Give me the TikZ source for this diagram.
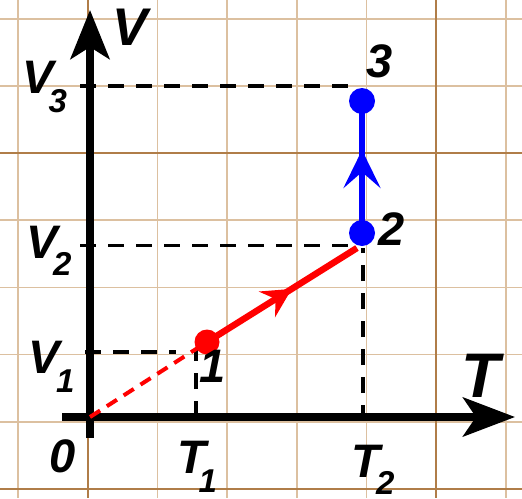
\documentclass[tikz,border=0pt]{standalone}
\usepackage{fontspec}
\setmainfont{Liberation Sans}
\usetikzlibrary{arrows.meta,decorations.markings}
\definecolor{gridminor}{RGB}{220,192,160}
\definecolor{gridmajor}{RGB}{176,125,72}
\definecolor{pblue}{RGB}{0,0,255}
\definecolor{pred}{RGB}{255,0,0}
\newcommand{\subtxt}[3]{\kern#1pt\raisebox{-#2pt}{\fontsize{33}{33}\selectfont #3}}
\begin{document}
\begin{tikzpicture}[x=1pt,y=-1pt,
  gridmin/.style={gridminor,line width=1.8pt},
  gridmaj/.style={gridmajor,line width=2.2pt},
  axis/.style={line width=7.5pt},
  guide/.style={line width=3.5pt,dash pattern=on 16pt off 12pt},
  lab/.style={font=\bfseries\itshape\fontsize{47}{47}\selectfont,inner sep=0pt,anchor=base},
  sublab/.style={font=\bfseries\itshape\fontsize{47}{47}\selectfont,inner sep=0pt,anchor=base west},
  dot/.style={circle,fill,inner sep=0pt,minimum size=#1},
]
\useasboundingbox (0,0) rectangle (522,498);
\fill[white] (0,0) rectangle (522,498);
% grid
\foreach \i in {0,2,3,4,5,7} { \draw[gridmin] ({18+69.7*\i},0) -- ({18+69.7*\i},498); }
\foreach \j in {0,1,3,4,5,6} { \draw[gridmin] (0,{19+67.1*\j}) -- (522,{19+67.1*\j}); }
\foreach \i in {1,6} { \draw[gridmaj] ({18+69.7*\i},0) -- ({18+69.7*\i},498); }
\foreach \j in {2,7} { \draw[gridmaj] (0,{19+67.1*\j}) -- (522,{19+67.1*\j}); }

% coordinates
\coordinate (O) at (90,417);
\coordinate (vbot) at (90,438);
\coordinate (vtop) at (90,10);
\coordinate (hleft) at (62,417);
\coordinate (hright) at (515,417);
\coordinate (c1) at (207,342);
\coordinate (c2) at (362,233);
\coordinate (c3) at (362,101);
\coordinate (r2) at (357,248);

% guide lines
\coordinate (g3a) at (80,86);   \coordinate (g3b) at (350,86);
\coordinate (g2a) at (80,245.5); \coordinate (g2b) at (350,245.5);
\coordinate (g2c) at (363,248); \coordinate (g2d) at (363,417);
\coordinate (g1a) at (85,352);  \coordinate (g1b) at (176,352);
\coordinate (g1c) at (196,348); \coordinate (g1d) at (196,417);
\draw[guide] (g3a) -- (g3b);
\draw[guide] (g2a) -- (g2b);
\draw[guide,dash phase=4pt] (g2d) -- (g2c);
\draw[guide] (g1a) -- (g1b);
\draw[guide] (g1d) -- (g1c);

% axes
\draw[axis,-{Stealth[length=49pt,width=39pt,inset=12pt]}] (vbot) -- (vtop);
\draw[axis,-{Stealth[length=52pt,width=39pt,inset=13pt]}] (hleft) -- (hright);

% process lines
\draw[pred,line width=4pt,dash pattern=on 12pt off 8pt] (O) -- (c1);
\draw[pred,line width=6.5pt,
  postaction={decorate,decoration={markings,
    mark=at position 100pt with {\arrow{Stealth[length=29pt,width=30pt,inset=10pt]}}}}]
  (c1) -- (r2);
\draw[pblue,line width=6pt,
  postaction={decorate,decoration={markings,
    mark=at position 83pt with {\arrow{Stealth[length=38pt,width=37pt,inset=16pt]}}}}]
  (c2) -- (c3);

% points
\node[dot=25pt,pred] (p1) at (c1) {};
\node[dot=26pt,pblue] (p2) at (c2) {};
\node[dot=26pt,pblue] (p3) at (c3) {};

% labels
\node[font=\bfseries\itshape\fontsize{53}{53}\selectfont,inner sep=0pt,anchor=base] (lV) at (130.5,45) {V};
\node[font=\bfseries\itshape\fontsize{63}{63}\selectfont,inner sep=0pt,anchor=base] (lT) at (480.5,397) {T};
\node[sublab] (lV3) at (21.8,93) {V\subtxt{-4.8}{19}{3}};
\node[sublab] (lV2) at (26.8,258) {V\subtxt{-5.3}{17}{2}};
\node[sublab] (lV1) at (28.3,373) {V\subtxt{-3.8}{19}{1}};
\node[lab] (l0) at (62.5,472) {0};
\node[sublab] (lT1) at (177.1,473) {T\subtxt{-7.5}{19}{1}};
\node[sublab] (lT2) at (351.1,477) {T\subtxt{-4}{17.5}{2}};
\node[lab] (n1) at (212.5,382) {1};
\node[lab] (n2) at (391.5,245) {2};
\node[lab] (n3) at (379.5,77) {3};
\end{tikzpicture}
\end{document}
